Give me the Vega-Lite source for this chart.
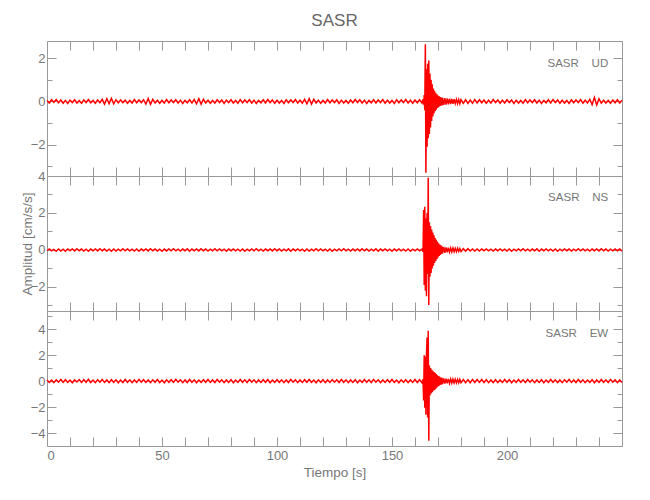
{
"$schema":"https://vega.github.io/schema/vega-lite/v6.json",
"padding":{"left":19,"top":12,"right":20,"bottom":10},
"background":"white",
"title":{"text":"SASR","fontSize":17,"font":"Liberation Sans","fontWeight":"normal","color":"#666","anchor":"middle","frame":"group","offset":10},
"config":{"view":{"stroke":"#999","strokeWidth":1},"axis":{"labelFont":"Liberation Sans","titleFont":"Liberation Sans","labelFontSize":13,"titleFontSize":13.5,"labelColor":"#777","titleColor":"#777","titleFontWeight":"normal","tickColor":"#999","domain":false,"grid":false},"text":{"font":"Liberation Sans"}},
"spacing":0,
"bounds":"flush",
"data":{"values":[
{"t":0,"u":0.05,"n":-0.04,"e":0.09},{"t":1,"u":-0.07,"n":0.06,"e":-0.11},{"t":2,"u":0.08,"n":-0.05,"e":0.07},{"t":3,"u":-0.04,"n":0.03,"e":-0.12},{"t":4,"u":0.09,"n":-0.07,"e":0.1},{"t":5,"u":-0.06,"n":0.05,"e":-0.08},{"t":6,"u":0.07,"n":-0.06,"e":0.13},{"t":7,"u":-0.08,"n":0.04,"e":-0.09},{"t":8,"u":0.05,"n":-0.07,"e":0.11},{"t":9,"u":-0.09,"n":0.05,"e":-0.1},
{"t":10,"u":0.06,"n":-0.03,"e":0.08},{"t":11,"u":-0.05,"n":0.06,"e":-0.13},{"t":12,"u":0.08,"n":-0.05,"e":0.09},{"t":13,"u":-0.07,"n":0.07,"e":-0.07},{"t":14,"u":0.04,"n":-0.04,"e":0.12},{"t":15,"u":-0.08,"n":0.05,"e":-0.1},{"t":16,"u":0.07,"n":-0.06,"e":0.11},{"t":17,"u":-0.05,"n":0.04,"e":-0.09},{"t":18,"u":0.09,"n":-0.07,"e":0.14},{"t":19,"u":-0.06,"n":0.05,"e":-0.11},
{"t":20,"u":0.05,"n":-0.04,"e":0.08},{"t":21,"u":-0.08,"n":0.06,"e":-0.12},{"t":22,"u":0.07,"n":-0.05,"e":0.1},{"t":23,"u":-0.06,"n":0.07,"e":-0.08},{"t":24,"u":0.1,"n":-0.04,"e":0.13},{"t":25,"u":-0.12,"n":0.05,"e":-0.1},{"t":26,"u":0.13,"n":-0.06,"e":0.09},{"t":27,"u":-0.1,"n":0.04,"e":-0.12},{"t":28,"u":0.14,"n":-0.07,"e":0.11},{"t":29,"u":-0.11,"n":0.05,"e":-0.09},
{"t":30,"u":0.08,"n":-0.06,"e":0.1},{"t":31,"u":-0.06,"n":0.04,"e":-0.13},{"t":32,"u":0.07,"n":-0.05,"e":0.08},{"t":33,"u":-0.05,"n":0.07,"e":-0.11},{"t":34,"u":0.06,"n":-0.04,"e":0.12},{"t":35,"u":-0.08,"n":0.06,"e":-0.09},{"t":36,"u":0.05,"n":-0.05,"e":0.1},{"t":37,"u":-0.07,"n":0.04,"e":-0.12},{"t":38,"u":0.09,"n":-0.06,"e":0.09},{"t":39,"u":-0.06,"n":0.05,"e":-0.1},
{"t":40,"u":0.07,"n":-0.07,"e":0.13},{"t":41,"u":-0.05,"n":0.05,"e":-0.08},{"t":42,"u":0.08,"n":-0.04,"e":0.11},{"t":43,"u":-0.12,"n":0.06,"e":-0.1},{"t":44,"u":0.14,"n":-0.05,"e":0.09},{"t":45,"u":-0.13,"n":0.07,"e":-0.12},{"t":46,"u":0.1,"n":-0.04,"e":0.1},{"t":47,"u":-0.07,"n":0.05,"e":-0.09},{"t":48,"u":0.06,"n":-0.06,"e":0.12},{"t":49,"u":-0.08,"n":0.04,"e":-0.11},
{"t":50,"u":0.05,"n":-0.07,"e":0.08},{"t":51,"u":-0.07,"n":0.05,"e":-0.13},{"t":52,"u":0.09,"n":-0.05,"e":0.1},{"t":53,"u":-0.06,"n":0.06,"e":-0.09},{"t":54,"u":0.07,"n":-0.04,"e":0.11},{"t":55,"u":-0.05,"n":0.07,"e":-0.1},{"t":56,"u":0.08,"n":-0.05,"e":0.14},{"t":57,"u":-0.07,"n":0.04,"e":-0.08},{"t":58,"u":0.06,"n":-0.06,"e":0.1},{"t":59,"u":-0.09,"n":0.05,"e":-0.12},
{"t":60,"u":0.05,"n":-0.04,"e":0.09},{"t":61,"u":-0.06,"n":0.06,"e":-0.11},{"t":62,"u":0.08,"n":-0.07,"e":0.12},{"t":63,"u":-0.07,"n":0.05,"e":-0.09},{"t":64,"u":0.09,"n":-0.04,"e":0.1},{"t":65,"u":-0.11,"n":0.06,"e":-0.13},{"t":66,"u":0.13,"n":-0.05,"e":0.08},{"t":67,"u":-0.12,"n":0.07,"e":-0.1},{"t":68,"u":0.1,"n":-0.04,"e":0.11},{"t":69,"u":-0.07,"n":0.05,"e":-0.09},
{"t":70,"u":0.06,"n":-0.06,"e":0.12},{"t":71,"u":-0.08,"n":0.04,"e":-0.1},{"t":72,"u":0.05,"n":-0.05,"e":0.09},{"t":73,"u":-0.07,"n":0.07,"e":-0.11},{"t":74,"u":0.08,"n":-0.04,"e":0.13},{"t":75,"u":-0.05,"n":0.06,"e":-0.08},{"t":76,"u":0.07,"n":-0.05,"e":0.1},{"t":77,"u":-0.09,"n":0.04,"e":-0.12},{"t":78,"u":0.06,"n":-0.07,"e":0.09},{"t":79,"u":-0.05,"n":0.05,"e":-0.1},
{"t":80,"u":0.08,"n":-0.04,"e":0.11},{"t":81,"u":-0.07,"n":0.06,"e":-0.13},{"t":82,"u":0.05,"n":-0.05,"e":0.08},{"t":83,"u":-0.08,"n":0.04,"e":-0.1},{"t":84,"u":0.09,"n":-0.06,"e":0.12},{"t":85,"u":-0.06,"n":0.05,"e":-0.09},{"t":86,"u":0.07,"n":-0.07,"e":0.1},{"t":87,"u":-0.05,"n":0.04,"e":-0.11},{"t":88,"u":0.08,"n":-0.05,"e":0.13},{"t":89,"u":-0.07,"n":0.06,"e":-0.08},
{"t":90,"u":0.06,"n":-0.04,"e":0.1},{"t":91,"u":-0.09,"n":0.07,"e":-0.12},{"t":92,"u":0.05,"n":-0.05,"e":0.09},{"t":93,"u":-0.06,"n":0.04,"e":-0.1},{"t":94,"u":0.08,"n":-0.06,"e":0.11},{"t":95,"u":-0.07,"n":0.05,"e":-0.09},{"t":96,"u":0.09,"n":-0.04,"e":0.12},{"t":97,"u":-0.05,"n":0.06,"e":-0.13},{"t":98,"u":0.07,"n":-0.05,"e":0.08},{"t":99,"u":-0.08,"n":0.07,"e":-0.1},
{"t":100,"u":0.06,"n":-0.04,"e":0.11},{"t":101,"u":-0.07,"n":0.05,"e":-0.09},{"t":102,"u":0.05,"n":-0.06,"e":0.1},{"t":103,"u":-0.09,"n":0.04,"e":-0.12},{"t":104,"u":0.08,"n":-0.05,"e":0.09},{"t":105,"u":-0.06,"n":0.06,"e":-0.11},{"t":106,"u":0.07,"n":-0.07,"e":0.13},{"t":107,"u":-0.05,"n":0.05,"e":-0.08},{"t":108,"u":0.09,"n":-0.04,"e":0.1},{"t":109,"u":-0.07,"n":0.06,"e":-0.12},
{"t":110,"u":0.06,"n":-0.05,"e":0.09},{"t":111,"u":-0.08,"n":0.04,"e":-0.1},{"t":112,"u":0.1,"n":-0.07,"e":0.11},{"t":113,"u":-0.11,"n":0.05,"e":-0.09},{"t":114,"u":0.13,"n":-0.06,"e":0.12},{"t":115,"u":-0.12,"n":0.04,"e":-0.1},{"t":116,"u":0.1,"n":-0.05,"e":0.08},{"t":117,"u":-0.07,"n":0.07,"e":-0.13},{"t":118,"u":0.06,"n":-0.04,"e":0.1},{"t":119,"u":-0.08,"n":0.06,"e":-0.09},
{"t":120,"u":0.05,"n":-0.05,"e":0.11},{"t":121,"u":-0.07,"n":0.04,"e":-0.12},{"t":122,"u":0.09,"n":-0.06,"e":0.09},{"t":123,"u":-0.06,"n":0.05,"e":-0.1},{"t":124,"u":0.07,"n":-0.07,"e":0.12},{"t":125,"u":-0.05,"n":0.04,"e":-0.08},{"t":126,"u":0.08,"n":-0.05,"e":0.1},{"t":127,"u":-0.09,"n":0.06,"e":-0.11},{"t":128,"u":0.06,"n":-0.04,"e":0.13},{"t":129,"u":-0.07,"n":0.07,"e":-0.09},
{"t":130,"u":0.05,"n":-0.05,"e":0.1},{"t":131,"u":-0.08,"n":0.04,"e":-0.12},{"t":132,"u":0.07,"n":-0.06,"e":0.09},{"t":133,"u":-0.06,"n":0.05,"e":-0.1},{"t":134,"u":0.09,"n":-0.04,"e":0.11},{"t":135,"u":-0.05,"n":0.06,"e":-0.13},{"t":136,"u":0.08,"n":-0.05,"e":0.08},{"t":137,"u":-0.07,"n":0.07,"e":-0.1},{"t":138,"u":0.06,"n":-0.04,"e":0.12},{"t":139,"u":-0.09,"n":0.05,"e":-0.09},
{"t":140,"u":0.05,"n":-0.06,"e":0.1},{"t":141,"u":-0.06,"n":0.04,"e":-0.11},{"t":142,"u":0.08,"n":-0.05,"e":0.13},{"t":143,"u":-0.07,"n":0.06,"e":-0.08},{"t":144,"u":0.07,"n":-0.07,"e":0.1},{"t":145,"u":-0.05,"n":0.05,"e":-0.12},{"t":146,"u":0.09,"n":-0.04,"e":0.09},{"t":147,"u":-0.08,"n":0.06,"e":-0.1},{"t":148,"u":0.06,"n":-0.05,"e":0.11},{"t":149,"u":-0.07,"n":0.04,"e":-0.09},
{"t":150,"u":0.05,"n":-0.07,"e":0.12},{"t":151,"u":-0.09,"n":0.05,"e":-0.1},{"t":152,"u":0.08,"n":-0.04,"e":0.08},{"t":153,"u":-0.06,"n":0.06,"e":-0.13},{"t":154,"u":0.07,"n":-0.05,"e":0.1},{"t":155,"u":-0.05,"n":0.04,"e":-0.09},{"t":156,"u":0.09,"n":-0.06,"e":0.11},{"t":157,"u":-0.07,"n":0.05,"e":-0.12},{"t":158,"u":0.06,"n":-0.07,"e":0.09},{"t":159,"u":-0.08,"n":0.04,"e":-0.1},
{"t":160,"u":0.07,"n":-0.05,"e":0.12},{"t":161,"u":-0.06,"n":0.06,"e":-0.11},{"t":162,"u":0.08,"n":-0.04,"e":0.1},{"t":163,"u":-0.07,"n":0.05,"e":-0.12},
{"t":163.5,"u":0.1,"n":-0.1,"e":0.15},{"t":163.75,"u":-0.15,"n":2.16,"e":-1.5},{"t":164,"u":0.3,"n":-1.9,"e":2.0},{"t":164.25,"u":-0.4,"n":2.34,"e":-2.05},{"t":164.5,"u":2.65,"n":-2.2,"e":1.9},{"t":164.75,"u":-3.3,"n":1.7,"e":-2.6},{"t":165,"u":1.5,"n":-2.5,"e":2.1},{"t":165.25,"u":-2.1,"n":2.0,"e":3.36},{"t":165.5,"u":1.75,"n":-1.3,"e":-2.8},{"t":165.75,"u":-1.7,"n":3.9,"e":3.87},
{"t":166,"u":1.9,"n":-2.97,"e":-4.6},{"t":166.25,"u":-1.5,"n":1.5,"e":1.2},{"t":166.5,"u":1.3,"n":-1.45,"e":-1.1},{"t":166.75,"u":-1.2,"n":1.3,"e":1.0},{"t":167,"u":1.0,"n":-1.25,"e":-0.95},{"t":167.25,"u":-0.9,"n":1.1,"e":0.9},{"t":167.5,"u":0.8,"n":-1.0,"e":-0.85},{"t":167.75,"u":-0.7,"n":0.95,"e":0.8},{"t":168,"u":0.6,"n":-0.85,"e":-0.75},{"t":168.25,"u":-0.55,"n":0.8,"e":0.7},
{"t":168.5,"u":0.5,"n":-0.7,"e":-0.68},{"t":168.75,"u":-0.45,"n":0.65,"e":0.64},{"t":169,"u":0.4,"n":-0.6,"e":-0.6},{"t":169.25,"u":-0.38,"n":0.55,"e":0.55},{"t":169.5,"u":0.33,"n":-0.5,"e":-0.5},{"t":169.75,"u":-0.3,"n":0.45,"e":0.45},{"t":170,"u":0.28,"n":-0.4,"e":-0.42},{"t":170.25,"u":-0.26,"n":0.36,"e":0.38},{"t":170.5,"u":0.24,"n":-0.32,"e":-0.36},{"t":170.75,"u":-0.22,"n":0.3,"e":0.33},
{"t":171,"u":0.2,"n":-0.27,"e":-0.3},{"t":171.25,"u":-0.19,"n":0.25,"e":0.28},{"t":171.5,"u":0.18,"n":-0.22,"e":-0.26},{"t":171.75,"u":-0.18,"n":0.2,"e":0.25},{"t":172,"u":0.17,"n":-0.18,"e":-0.23},{"t":172.5,"u":-0.16,"n":0.16,"e":0.21},{"t":173,"u":0.15,"n":-0.15,"e":-0.2},{"t":173.5,"u":-0.15,"n":0.14,"e":0.19},{"t":174,"u":0.14,"n":-0.13,"e":-0.18},{"t":174.5,"u":-0.13,"n":0.12,"e":0.17},
{"t":175,"u":0.13,"n":-0.12,"e":-0.17},{"t":175.5,"u":-0.12,"n":0.11,"e":0.16},{"t":176,"u":0.12,"n":-0.1,"e":-0.15},{"t":176.5,"u":-0.11,"n":0.1,"e":0.15},{"t":177,"u":0.11,"n":-0.1,"e":-0.14},{"t":177.5,"u":-0.1,"n":0.09,"e":0.14},{"t":178,"u":0.1,"n":-0.09,"e":-0.14},{"t":178.5,"u":-0.1,"n":0.09,"e":0.13},{"t":179,"u":0.09,"n":-0.08,"e":-0.13},{"t":179.5,"u":-0.1,"n":0.08,"e":0.13},{"t":180,"u":0.09,"n":-0.08,"e":-0.12},
{"t":181,"u":-0.09,"n":0.07,"e":0.12},{"t":182,"u":0.08,"n":-0.06,"e":-0.13},{"t":183,"u":-0.09,"n":0.07,"e":0.11},{"t":184,"u":0.07,"n":-0.06,"e":-0.12},{"t":185,"u":-0.08,"n":0.05,"e":0.13},{"t":186,"u":0.09,"n":-0.06,"e":-0.11},{"t":187,"u":-0.07,"n":0.05,"e":0.12},{"t":188,"u":0.08,"n":-0.06,"e":-0.1},{"t":189,"u":-0.06,"n":0.05,"e":0.12},
{"t":190,"u":0.07,"n":-0.04,"e":-0.11},{"t":191,"u":-0.08,"n":0.06,"e":0.1},{"t":192,"u":0.06,"n":-0.05,"e":-0.12},{"t":193,"u":-0.07,"n":0.04,"e":0.09},{"t":194,"u":0.09,"n":-0.06,"e":-0.11},{"t":195,"u":-0.05,"n":0.05,"e":0.1},{"t":196,"u":0.07,"n":-0.04,"e":-0.12},{"t":197,"u":-0.08,"n":0.06,"e":0.09},{"t":198,"u":0.06,"n":-0.05,"e":-0.1},{"t":199,"u":-0.07,"n":0.04,"e":0.12},
{"t":200,"u":0.08,"n":-0.06,"e":-0.09},{"t":201,"u":-0.05,"n":0.05,"e":0.11},{"t":202,"u":0.07,"n":-0.07,"e":-0.13},{"t":203,"u":-0.09,"n":0.04,"e":0.08},{"t":204,"u":0.06,"n":-0.05,"e":-0.1},{"t":205,"u":-0.07,"n":0.06,"e":0.12},{"t":206,"u":0.05,"n":-0.04,"e":-0.09},{"t":207,"u":-0.08,"n":0.07,"e":0.1},{"t":208,"u":0.09,"n":-0.05,"e":-0.11},{"t":209,"u":-0.06,"n":0.04,"e":0.13},
{"t":210,"u":0.07,"n":-0.06,"e":-0.08},{"t":211,"u":-0.05,"n":0.05,"e":0.1},{"t":212,"u":0.08,"n":-0.04,"e":-0.12},{"t":213,"u":-0.07,"n":0.06,"e":0.09},{"t":214,"u":0.06,"n":-0.07,"e":-0.1},{"t":215,"u":-0.09,"n":0.05,"e":0.11},{"t":216,"u":0.05,"n":-0.04,"e":-0.13},{"t":217,"u":-0.06,"n":0.06,"e":0.08},{"t":218,"u":0.08,"n":-0.05,"e":-0.1},{"t":219,"u":-0.07,"n":0.04,"e":0.12},
{"t":220,"u":0.09,"n":-0.06,"e":-0.09},{"t":221,"u":-0.05,"n":0.05,"e":0.1},{"t":222,"u":0.07,"n":-0.07,"e":-0.11},{"t":223,"u":-0.08,"n":0.04,"e":0.09},{"t":224,"u":0.06,"n":-0.05,"e":-0.12},{"t":225,"u":-0.07,"n":0.06,"e":0.1},{"t":226,"u":0.05,"n":-0.04,"e":-0.08},{"t":227,"u":-0.09,"n":0.05,"e":0.13},{"t":228,"u":0.08,"n":-0.06,"e":-0.1},{"t":229,"u":-0.06,"n":0.04,"e":0.09},
{"t":230,"u":0.07,"n":-0.05,"e":-0.11},{"t":231,"u":-0.05,"n":0.07,"e":0.12},{"t":232,"u":0.09,"n":-0.04,"e":-0.09},{"t":233,"u":-0.08,"n":0.06,"e":0.1},{"t":234,"u":0.06,"n":-0.05,"e":-0.12},{"t":235,"u":-0.07,"n":0.04,"e":0.08},{"t":236,"u":0.1,"n":-0.06,"e":-0.1},{"t":237,"u":-0.15,"n":0.05,"e":0.11},{"t":238,"u":0.18,"n":-0.04,"e":-0.13},{"t":239,"u":-0.16,"n":0.06,"e":0.09},
{"t":240,"u":0.12,"n":-0.05,"e":-0.1},{"t":241,"u":-0.08,"n":0.07,"e":0.12},{"t":242,"u":0.06,"n":-0.04,"e":-0.09},{"t":243,"u":-0.07,"n":0.05,"e":0.1},{"t":244,"u":0.05,"n":-0.06,"e":-0.11},{"t":245,"u":-0.08,"n":0.04,"e":0.13},{"t":246,"u":0.07,"n":-0.05,"e":-0.08},{"t":247,"u":-0.06,"n":0.06,"e":0.1},{"t":248,"u":0.08,"n":-0.04,"e":-0.12},{"t":249,"u":-0.07,"n":0.05,"e":0.09},{"t":250,"u":0.06,"n":-0.06,"e":-0.1}
]},
"vconcat":[
{"width":575,"height":135,
 "layer":[
  {"mark":{"type":"line","color":"#ff0000","strokeWidth":1.5},
   "encoding":{
    "x":{"field":"t","type":"quantitative","scale":{"domain":[0,250],"nice":false,"zero":false},"axis":{"orient":"bottom","values":[0,10,20,30,40,50,60,70,80,90,100,110,120,130,140,150,160,170,180,190,200,210,220,230,240,250],"labels":false,"tickSize":-9,"title":null}},
    "y":{"field":"u","type":"quantitative","scale":{"domain":[-3.45,2.8],"nice":false,"zero":false},"axis":{"orient":"left","values":[-2,0,2],"tickSize":-9,"labelPadding":11,"title":null}}}},
  {"mark":{"type":"point","opacity":0},
   "encoding":{
    "x":{"field":"t","type":"quantitative","scale":{"domain":[0,250],"nice":false,"zero":false},"axis":{"orient":"top","values":[0,10,20,30,40,50,60,70,80,90,100,110,120,130,140,150,160,170,180,190,200,210,220,230,240,250],"labels":false,"tickSize":-9,"title":null}},
    "y":{"field":"u","type":"quantitative","scale":{"domain":[-3.45,2.8],"nice":false,"zero":false},"axis":{"orient":"right","values":[-2,0,2],"labels":false,"tickSize":-9,"title":null}}}},
  {"mark":{"type":"point","opacity":0},
   "encoding":{"y":{"field":"u","type":"quantitative","scale":{"domain":[-3.45,2.8],"nice":false,"zero":false},"axis":{"orient":"left","values":[-3,-1,1],"labels":false,"tickSize":-5,"title":null}}}},
  {"mark":{"type":"point","opacity":0},
   "encoding":{"y":{"field":"u","type":"quantitative","scale":{"domain":[-3.45,2.8],"nice":false,"zero":false},"axis":{"orient":"right","values":[-3,-1,1],"labels":false,"tickSize":-5,"title":null}}}},
  {"data":{"values":[{}]},
   "mark":{"type":"text","align":"right","baseline":"alphabetic","fontSize":11.5,"color":"#777"},
   "encoding":{"x":{"datum":244,"type":"quantitative","scale":{"domain":[0,250],"nice":false,"zero":false},"axis":null},"y":{"datum":1.61,"type":"quantitative","scale":{"domain":[-3.45,2.8],"nice":false,"zero":false},"axis":null},"text":{"value":"SASR\u00a0\u00a0\u00a0\u00a0UD"}}}
 ],
 "resolve":{"axis":{"x":"independent","y":"independent"}}},
{"width":575,"height":135,
 "layer":[
  {"mark":{"type":"line","color":"#ff0000","strokeWidth":1.5},
   "encoding":{
    "x":{"field":"t","type":"quantitative","scale":{"domain":[0,250],"nice":false,"zero":false},"axis":{"orient":"bottom","values":[0,10,20,30,40,50,60,70,80,90,100,110,120,130,140,150,160,170,180,190,200,210,220,230,240,250],"labels":false,"tickSize":-9,"title":null}},
    "y":{"field":"n","type":"quantitative","scale":{"domain":[-3.3,4.0],"nice":false,"zero":false},"axis":{"orient":"left","values":[-2,0,2,4],"tickSize":-9,"labelPadding":11,"title":"Amplitud [cm/s/s]","titleX":-13,"titleAngle":270,"titleBaseline":"bottom"}}}},
  {"mark":{"type":"point","opacity":0},
   "encoding":{
    "x":{"field":"t","type":"quantitative","scale":{"domain":[0,250],"nice":false,"zero":false},"axis":{"orient":"top","values":[0,10,20,30,40,50,60,70,80,90,100,110,120,130,140,150,160,170,180,190,200,210,220,230,240,250],"labels":false,"tickSize":-9,"title":null}},
    "y":{"field":"n","type":"quantitative","scale":{"domain":[-3.3,4.0],"nice":false,"zero":false},"axis":{"orient":"right","values":[-2,0,2],"labels":false,"tickSize":-9,"title":null}}}},
  {"mark":{"type":"point","opacity":0},
   "encoding":{"y":{"field":"n","type":"quantitative","scale":{"domain":[-3.3,4.0],"nice":false,"zero":false},"axis":{"orient":"left","values":[-3,-1,1,3],"labels":false,"tickSize":-5,"title":null}}}},
  {"mark":{"type":"point","opacity":0},
   "encoding":{"y":{"field":"n","type":"quantitative","scale":{"domain":[-3.3,4.0],"nice":false,"zero":false},"axis":{"orient":"right","values":[-3,-1,1,3],"labels":false,"tickSize":-5,"title":null}}}},
  {"data":{"values":[{}]},
   "mark":{"type":"text","align":"right","baseline":"alphabetic","fontSize":11.5,"color":"#777"},
   "encoding":{"x":{"datum":244,"type":"quantitative","scale":{"domain":[0,250],"nice":false,"zero":false},"axis":null},"y":{"datum":2.64,"type":"quantitative","scale":{"domain":[-3.3,4.0],"nice":false,"zero":false},"axis":null},"text":{"value":"SASR\u00a0\u00a0\u00a0\u00a0NS"}}}
 ],
 "resolve":{"axis":{"x":"independent","y":"independent"}}},
{"width":575,"height":135,
 "layer":[
  {"mark":{"type":"line","color":"#ff0000","strokeWidth":1.5},
   "encoding":{
    "x":{"field":"t","type":"quantitative","scale":{"domain":[0,250],"nice":false,"zero":false},"axis":{"orient":"bottom","values":[0,10,20,30,40,50,60,70,80,90,100,110,120,130,140,150,160,170,180,190,200,210,220,230,240,250],"tickSize":-9,"labelPadding":12,"labelExpr":"datum.value % 50 === 0 && datum.value < 250 ? datum.label : ''","title":"Tiempo [s]","titlePadding":3}},
    "y":{"field":"e","type":"quantitative","scale":{"domain":[-5.0,5.4],"nice":false,"zero":false},"axis":{"orient":"left","values":[-4,-2,0,2,4],"tickSize":-9,"labelPadding":11,"title":null}}}},
  {"mark":{"type":"point","opacity":0},
   "encoding":{
    "x":{"field":"t","type":"quantitative","scale":{"domain":[0,250],"nice":false,"zero":false},"axis":{"orient":"top","values":[0,10,20,30,40,50,60,70,80,90,100,110,120,130,140,150,160,170,180,190,200,210,220,230,240,250],"labels":false,"tickSize":-9,"title":null}},
    "y":{"field":"e","type":"quantitative","scale":{"domain":[-5.0,5.4],"nice":false,"zero":false},"axis":{"orient":"right","values":[-4,-2,0,2,4],"labels":false,"tickSize":-9,"title":null}}}},
  {"mark":{"type":"point","opacity":0},
   "encoding":{"y":{"field":"e","type":"quantitative","scale":{"domain":[-5.0,5.4],"nice":false,"zero":false},"axis":{"orient":"left","values":[-3,-1,1,3,5],"labels":false,"tickSize":-5,"title":null}}}},
  {"mark":{"type":"point","opacity":0},
   "encoding":{"y":{"field":"e","type":"quantitative","scale":{"domain":[-5.0,5.4],"nice":false,"zero":false},"axis":{"orient":"right","values":[-3,-1,1,3,5],"labels":false,"tickSize":-5,"title":null}}}},
  {"data":{"values":[{}]},
   "mark":{"type":"text","align":"right","baseline":"alphabetic","fontSize":11.5,"color":"#777"},
   "encoding":{"x":{"datum":244,"type":"quantitative","scale":{"domain":[0,250],"nice":false,"zero":false},"axis":null},"y":{"datum":3.39,"type":"quantitative","scale":{"domain":[-5.0,5.4],"nice":false,"zero":false},"axis":null},"text":{"value":"SASR\u00a0\u00a0\u00a0\u00a0EW"}}}
 ],
 "resolve":{"axis":{"x":"independent","y":"independent"}}}
]
}
